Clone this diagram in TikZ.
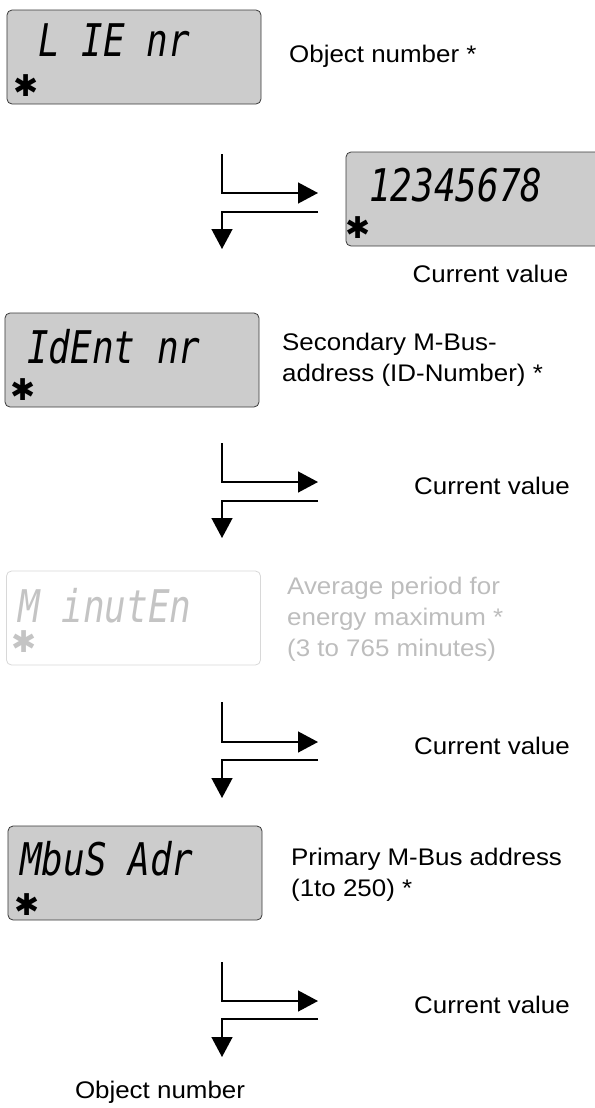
\documentclass[tikz,border=0pt]{standalone}
\usepackage{fontspec}
\setmainfont{Liberation Sans}[FakeStretch=1.08]
\newfontfamily\lcdfont{DejaVu Sans Mono}[FakeStretch=0.8]
\newfontfamily\symfont{DejaVu Sans}
\usetikzlibrary{arrows.meta}
\definecolor{lcdgray}{HTML}{CCCCCC}
\definecolor{lcdline}{HTML}{3A3A3A}
\definecolor{faintline}{HTML}{D8D8D8}
\definecolor{fainttext}{HTML}{C4C4C4}
\definecolor{faintlabel}{HTML}{BDBDBD}
\tikzset{
  lcdbox/.style={draw=lcdline, fill=lcdgray, rounded corners=5bp, minimum width=254bp, minimum height=94bp, inner sep=0pt, line width=0.8bp},
  lcdfaint/.style={lcdbox, draw=faintline, fill=white},
  segtext/.style={font=\lcdfont\itshape\fontsize{45bp}{45bp}\selectfont, anchor=west, inner sep=0pt},
  starmark/.style={font=\symfont\fontsize{30bp}{30bp}\selectfont, inner sep=0pt},
  lbl/.style={font=\fontsize{24bp}{31bp}\selectfont, align=left, anchor=west, inner sep=0pt},
  cval/.style={font=\fontsize{24bp}{31bp}\selectfont, inner sep=0pt},
  flow/.style={line width=1.4bp, -{Triangle[length=20bp,width=21bp]}}
}
\begin{document}
\begin{tikzpicture}[x=1bp, y=-1bp]
\useasboundingbox (0,0) rectangle (595,1108);

% --- box 1
\node[lcdbox] (b1) at (134,57) {};
\node[segtext] (t1) at (38,40) {L IE nr};
\node[starmark] (s1) at (26.5,86) {✱};
\node[lbl] (l1) at (289,56) {Object number *};

% --- group 1
\coordinate (a1) at (222,154);
\coordinate (a1r) at (318,193);
\coordinate (c1r) at (318,212);
\coordinate (c1t) at (222,249);
\draw[flow] (a1) |- (a1r);
\draw[flow] (c1r) -| (c1t);

% --- box 2 (current value display)
\node[lcdbox] (b2) at (473,199) {};
\node[segtext] (t2) at (369,185.5) {12345678};
\node[starmark] (s2) at (358,228) {✱};
\node[cval] (v1) at (490.5,273.5) {Current value};

% --- box 3
\node[lcdbox] (b3) at (132,360) {};
\node[segtext] (t3) at (27,347) {IdEnt nr};
\node[starmark] (s3) at (23.5,390) {✱};
\node[lbl] (l3) at (282,360) {Secondary M-Bus-\\address (ID-Number) *};

% --- group 2
\coordinate (a2) at (222,443);
\coordinate (a2r) at (318,482);
\coordinate (c2r) at (318,501);
\coordinate (c2t) at (222,538);
\draw[flow] (a2) |- (a2r);
\draw[flow] (c2r) -| (c2t);
\node[cval] (v2) at (492,486) {Current value};

% --- box 4 (faint)
\node[lcdfaint] (b4) at (133.5,618) {};
\node[segtext, text=fainttext] (t4) at (18,606) {M inutEn};
\node[starmark, text=fainttext] (s4) at (24,642) {✱};
\node[lbl, text=faintlabel] (l4) at (287,619) {Average period for\\energy maximum *\\(3 to 765 minutes)};

% --- group 3
\coordinate (a3) at (222,702);
\coordinate (a3r) at (318,742);
\coordinate (c3r) at (318,760);
\coordinate (c3t) at (222,798);
\draw[flow] (a3) |- (a3r);
\draw[flow] (c3r) -| (c3t);
\node[cval] (v3) at (492,746) {Current value};

% --- box 5
\node[lcdbox] (b5) at (135,873) {};
\node[segtext] (t5) at (20,859) {MbuS Adr};
\node[starmark] (s5) at (27,905) {✱};
\node[lbl] (l5) at (291,875) {Primary M-Bus address\\(1to 250) *};

% --- group 4
\coordinate (a4) at (222,962);
\coordinate (a4r) at (318,1001);
\coordinate (c4r) at (318,1019);
\coordinate (c4t) at (222,1057);
\draw[flow] (a4) |- (a4r);
\draw[flow] (c4r) -| (c4t);
\node[cval] (v4) at (492,1005) {Current value};

\node[cval] (end) at (160,1092) {Object number};
\end{tikzpicture}
\end{document}
